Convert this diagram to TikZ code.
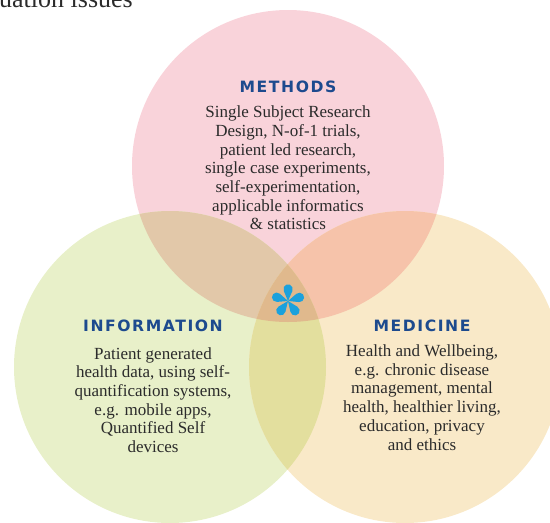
\documentclass[tikz,border=0pt]{standalone}
\usepackage{fontspec}
\setmainfont{Liberation Serif}
\newfontfamily\titlefont[LetterSpace=10]{DejaVu Sans}
\definecolor{cpink}{HTML}{F9D3DA}
\definecolor{cgreen}{HTML}{E8F0C9}
\definecolor{cyellow}{HTML}{F9E9C8}
\definecolor{cpg}{HTML}{E2C8A9}
\definecolor{cpy}{HTML}{F6C3AA}
\definecolor{cgy}{HTML}{E3DF9E}
\definecolor{cpgy}{HTML}{E0B98D}
\definecolor{bodygray}{HTML}{2B2B2B}
\definecolor{titleblue}{HTML}{1D4A8E}
\definecolor{astblue}{HTML}{1BA1DC}
\begin{document}
\begin{tikzpicture}[x=1pt,y=-1pt,
  body/.style={text=bodygray, align=center, inner sep=0pt, font=\fontsize{17}{18.7}\selectfont},
  ttl/.style={text=titleblue, inner sep=0pt, font=\titlefont\bfseries\fontsize{15.6}{18}\selectfont},
  petal/.style={fill=astblue}]
\useasboundingbox (0,0) rectangle (550,523);
\clip (0,0) rectangle (550,523);
\def\pinkc{(288,166) circle[radius=156pt]}
\def\greenc{(170,367) circle[radius=156pt]}
\def\yellowc{(405,367) circle[radius=156pt]}
% circles
\fill[cpink] \pinkc;
\fill[cgreen] \greenc;
\fill[cyellow] \yellowc;
\begin{scope}
  \clip \pinkc;
  \fill[cpg] \greenc;
  \fill[cpy] \yellowc;
\end{scope}
\begin{scope}
  \clip \greenc;
  \fill[cgy] \yellowc;
\end{scope}
\begin{scope}
  \clip \pinkc;
  \clip \greenc;
  \fill[cpgy] \yellowc;
\end{scope}
% cut-off text at top
\node[anchor=base west, inner sep=0pt, text=bodygray, font=\fontsize{26}{28}\selectfont] (cut) at (-1,7) {uation issues};
% titles
\node[ttl] (mtitle) at (288,87) {METHODS};
\node[ttl] (ititle) at (153,326) {INFORMATION};
\node[ttl] (dtitle) at (422,326) {MEDICINE};
% bodies
\node[body] (mbody) at (288,168) {Single Subject Research\\Design, N-of-1 trials,\\patient led research,\\single case experiments,\\self-experimentation,\\applicable informatics\\\& statistics};
\node[body] (ibody) at (153,400) {Patient generated\\health data, using self-\\quantification systems,\\e.g. mobile apps,\\Quantified Self\\devices};
\node[body] (dbody) at (422,397.5) {Health and Wellbeing,\\e.g. chronic disease\\management, mental\\health, healthier living,\\education, privacy\\and ethics};
% asterisk
\begin{scope}[shift={(288pt,-301pt)}, x=1pt, y=1pt]
  \foreach \a in {0,72,144,216,288}{
    \fill[petal, rotate=\a] (0,0) -- (4.4,10.1) arc[start angle=-23.6, end angle=203.6, radius=4.7pt] -- cycle;
  }
\end{scope}
\end{tikzpicture}
\end{document}
